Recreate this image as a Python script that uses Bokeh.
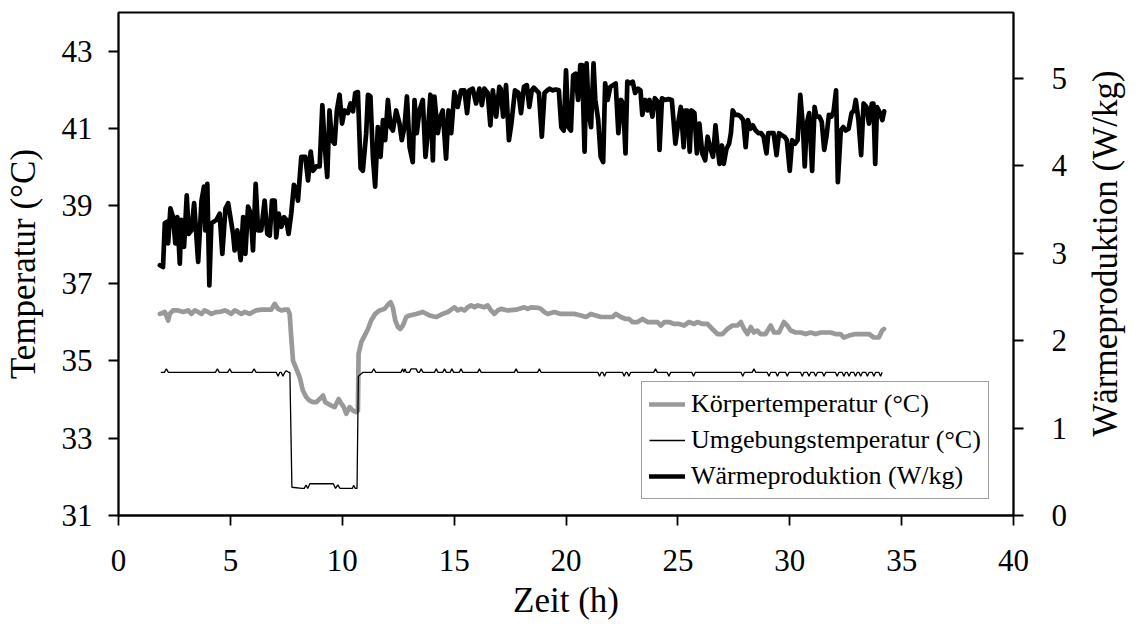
import math
from bokeh.plotting import figure
from bokeh.models import Range1d, LinearAxis, FixedTicker, Legend, LegendItem
from bokeh.embed import file_html
from bokeh.resources import INLINE

# ---------------- data ----------------
x_ticks = [0, 5, 10, 15, 20, 25, 30, 35, 40]
temp_ticks = [31, 33, 35, 37, 39, 41, 43]
heat_ticks = [0, 1, 2, 3, 4, 5]

# Wärmeproduktion (W/kg), right axis
heat_t = [1.85, 1.99, 2.07, 2.19, 2.22, 2.32, 2.44, 2.54, 2.63, 2.74, 2.81, 2.93, 3.05, 3.14, 3.26,
          3.38, 3.56, 3.71, 3.82, 3.88, 3.97, 4.06, 4.15, 4.38, 4.52, 4.64, 4.78, 4.90, 5.12, 5.19,
          5.31, 5.46, 5.57, 5.67, 5.79, 5.91, 6.01, 6.13, 6.24, 6.38, 6.53, 6.65, 6.76, 6.86, 6.98,
          7.05, 7.16, 7.28, 7.40, 7.50, 7.60, 7.72, 7.84, 7.95, 8.02, 8.17, 8.35, 8.47, 8.59, 8.69,
          8.84, 8.99, 9.11, 9.21, 9.33, 9.43, 9.54, 9.66, 9.76, 9.88, 9.99, 10.10, 10.25, 10.37, 10.48,
          10.58, 10.70, 10.82, 10.92, 11.07, 11.15, 11.26, 11.37, 11.47, 11.59, 11.71, 11.82, 11.92,
          12.04, 12.16, 12.26, 12.41, 12.56, 12.66, 12.78, 12.89, 13.01, 13.15, 13.23, 13.33, 13.45,
          13.60, 13.72, 13.82, 13.94, 14.05, 14.12, 14.27, 14.39, 14.49, 14.64, 14.75, 14.87, 15.01,
          15.16, 15.31, 15.46, 15.58, 15.68, 15.83, 15.98, 16.13, 16.24, 16.35, 16.50, 16.62, 16.73,
          16.88, 17.02,
          17.08, 17.19, 17.32, 17.45, 17.56, 17.72, 17.88, 17.99, 18.12, 18.25, 18.36, 18.47, 18.56,
          18.68, 18.79, 18.92, 19.04, 19.16, 19.27, 19.39, 19.55, 19.68, 19.79, 19.90, 20.00, 20.11,
          20.22, 20.32, 20.43, 20.54, 20.64, 20.72, 20.83, 20.92, 21.02, 21.12, 21.23, 21.31, 21.44,
          21.55, 21.66, 21.75, 21.86, 21.98, 22.10, 22.22, 22.34, 22.46, 22.55, 22.66, 22.74, 22.87,
          22.98, 23.09, 23.22, 23.33, 23.41, 23.54, 23.65, 23.73, 23.86, 23.97, 24.10, 24.18, 24.29,
          24.42, 24.58, 24.73, 24.89, 25.01, 25.13, 25.26, 25.32, 25.42, 25.53, 25.61, 25.74, 25.85,
          25.96, 26.09, 26.22, 26.33, 26.44, 26.57, 26.68, 26.76, 26.86, 26.97, 27.05, 27.17, 27.29,
          27.37, 27.45, 27.56, 27.68, 27.81, 27.92, 28.03, 28.13, 28.24, 28.35, 28.48, 28.61, 28.72,
          28.83, 28.96, 29.04, 29.15, 29.28, 29.41, 29.52, 29.63, 29.76, 29.87, 30.00, 30.11, 30.24,
          30.35, 30.47, 30.59, 30.67, 30.76, 30.87, 31.00, 31.11, 31.19, 31.32, 31.43, 31.54, 31.64,
          31.75, 31.86, 31.96, 32.07, 32.15, 32.28, 32.39, 32.50, 32.63, 32.76, 32.87, 32.95, 33.07,
          33.19, 33.30, 33.43, 33.54, 33.67, 33.74, 33.82, 33.90, 34.03, 34.14, 34.22]
heat_w = [2.86, 2.84, 3.34, 3.36, 3.11, 3.51, 3.41, 3.11, 3.41, 2.88, 3.38, 3.07, 3.66, 3.22, 3.26,
          3.57, 2.90, 3.60, 3.76, 3.26, 3.79, 2.63, 3.34, 3.38, 3.45, 2.99, 3.51, 3.57, 3.22, 3.03,
          3.26, 2.92, 3.41, 2.99, 3.53, 3.45, 3.03, 3.79, 3.26, 3.26, 3.60, 3.22, 3.20, 3.60, 3.60,
          3.18, 3.45, 3.30, 3.41, 3.38, 3.22, 3.45, 3.78, 3.72, 3.60, 4.10, 4.10, 3.83, 4.16, 3.94,
          3.99, 3.99, 4.69, 4.25, 3.87, 4.63, 4.29, 4.25, 4.63, 4.81, 4.48, 4.63, 4.60, 4.71, 4.62,
          4.83, 4.84, 3.97, 3.94, 4.37, 4.81, 4.79, 4.10, 3.76, 4.44, 4.10, 4.52, 4.29,
          4.75, 4.44, 4.40, 4.63, 4.48, 4.29, 4.44, 4.79, 4.21, 4.04, 4.75, 4.37, 4.63,
          4.75, 4.10, 4.37, 4.81, 4.06, 4.79, 4.37, 4.56, 4.63, 4.08, 4.63, 4.37, 4.84,
          4.67, 4.86, 4.86, 4.60, 4.86, 4.88, 4.71, 4.88, 4.69, 4.88, 4.83, 4.46, 4.86,
          4.56, 4.90,
          4.88, 4.56, 4.92, 4.29, 4.48, 4.86, 4.83, 4.60, 4.90, 4.92, 4.67, 4.86, 4.89,
          4.86, 4.83, 4.33, 4.83, 4.86, 4.88, 4.86, 4.87, 4.86, 4.44, 4.40, 5.09, 4.44,
          4.40, 5.03, 5.05, 4.75, 5.15, 5.15, 4.16, 5.17, 4.60, 4.44, 5.17, 4.75, 4.52,
          4.10, 4.04, 4.94, 4.75, 4.90, 4.92, 4.94, 4.37, 4.75, 4.71, 4.14, 4.96, 4.94,
          4.96, 4.83, 4.88, 4.86, 4.58, 4.75, 4.63, 4.75, 4.56, 4.77, 4.73, 4.18, 4.77,
          4.75, 4.76, 4.75, 4.25, 4.48, 4.67, 4.21, 4.63, 4.63, 4.16, 4.63, 4.60, 4.14,
          4.48, 4.14, 4.06, 4.33, 4.21, 4.10, 4.46, 4.25, 4.02, 4.23, 4.02, 4.19, 4.25,
          4.37, 4.63, 4.58, 4.58, 4.56, 4.52, 4.21, 4.52, 4.42, 4.46, 4.40, 4.37, 4.37,
          4.33, 4.14, 4.37, 4.37, 4.37, 4.12, 4.37, 4.35, 4.33, 4.29, 3.94, 4.29, 4.25,
          4.29, 4.81, 4.44, 3.99, 4.48, 4.60, 3.94, 4.67, 4.56, 4.56, 4.50, 4.18, 4.33,
          4.58, 4.56, 4.62, 4.86, 3.81, 4.40, 4.44, 4.40, 4.42, 4.60, 4.63, 4.75, 4.52,
          4.12, 4.71, 4.67, 4.48, 4.71, 4.71, 4.02, 4.67, 4.60, 4.52, 4.62]

# Körpertemperatur (°C), left axis
body_t = [1.85, 2.07, 2.22, 2.29, 2.44, 2.66, 2.89, 3.11, 3.26, 3.41, 3.56, 3.71, 3.85, 4.00, 4.15,
          4.38, 4.52, 4.75, 4.90, 5.04, 5.19, 5.34, 5.49, 5.64, 5.86, 6.01, 6.16, 6.38, 6.61, 6.83,
          6.98, 7.13, 7.28, 7.43, 7.57, 7.65, 7.72, 7.80, 7.95, 8.10, 8.24, 8.39, 8.54, 8.69, 8.84,
          8.99, 9.14, 9.24, 9.36, 9.51, 9.66, 9.84, 9.96, 10.07, 10.18, 10.33, 10.48, 10.63, 10.70,
          10.73, 10.85, 11.00, 11.15, 11.29, 11.47, 11.67, 11.89, 12.07, 12.16, 12.26, 12.37, 12.49,
          12.59, 12.71, 12.86, 13.01, 13.30, 13.60, 13.90, 14.20, 14.49, 14.72, 15.01, 15.16, 15.31,
          15.46, 15.61, 15.76, 15.91, 16.06, 16.35, 16.50, 16.65, 16.80, 16.95, 17.10, 17.40, 17.77,
          18.14, 18.29, 18.44, 18.74, 18.88, 19.03, 19.18, 19.48,
          19.77, 20.07, 20.37, 20.67, 20.89, 21.11, 21.33, 21.56, 21.86, 22.08, 22.23, 22.45, 22.67,
          22.82, 22.97, 23.20, 23.42, 23.64, 23.87, 24.09, 24.24, 24.39, 24.61, 24.83, 25.06, 25.28,
          25.50, 25.73, 25.87, 26.10, 26.32, 26.54, 26.77, 26.99, 27.21, 27.44, 27.66, 27.81, 27.96,
          28.11, 28.26, 28.40, 28.55, 28.70, 28.92, 29.15, 29.30, 29.52, 29.74, 29.89, 30.04, 30.26,
          30.49, 30.71, 30.93, 31.16, 31.38, 31.60, 31.83, 32.05, 32.27, 32.42, 32.65, 32.94, 33.24,
          33.54, 33.76, 33.98, 34.13, 34.21]
body_T = [36.21, 36.26, 36.04, 36.21, 36.30, 36.30, 36.26, 36.30, 36.21, 36.30, 36.26, 36.21, 36.30,
          36.26, 36.21, 36.26, 36.26, 36.30, 36.26, 36.21, 36.30, 36.26, 36.21, 36.26, 36.21, 36.26,
          36.30, 36.32, 36.32, 36.32, 36.47, 36.34, 36.30, 36.32, 36.32, 36.21, 35.61, 35.00, 34.79,
          34.57, 34.23, 34.06, 33.97, 33.93, 33.93, 34.01, 34.10, 33.93, 33.89, 33.84, 33.80, 34.01,
          33.89, 33.80, 33.63, 33.80, 33.71, 33.67, 33.71, 35.18, 35.48, 35.65, 35.82, 36.04, 36.21,
          36.30, 36.34, 36.47, 36.51, 36.38, 36.04, 35.87, 35.82, 35.91, 36.13, 36.17, 36.21, 36.26,
          36.17, 36.13, 36.21, 36.26, 36.38, 36.30, 36.34, 36.30, 36.38, 36.43, 36.38, 36.43, 36.38,
          36.43, 36.30, 36.21, 36.30, 36.34, 36.30, 36.32, 36.38, 36.34, 36.38, 36.37, 36.34, 36.26,
          36.21, 36.26,
          36.21, 36.21, 36.21, 36.17, 36.13, 36.21, 36.17, 36.13, 36.13, 36.13, 36.21, 36.13, 36.08,
          36.08, 36.00, 36.00, 36.08, 36.00, 36.00, 36.00, 35.91, 36.00, 36.00, 35.95, 35.95, 35.91,
          36.00, 35.95, 36.00, 35.95, 35.95, 35.82, 35.69, 35.69, 35.82, 35.91, 35.91, 36.00, 35.82,
          35.69, 35.87, 35.73, 35.78, 35.69, 35.69, 35.91, 35.73, 35.73, 36.00, 35.91, 35.78, 35.73,
          35.73, 35.69, 35.73, 35.69, 35.73, 35.73, 35.73, 35.69, 35.69, 35.60, 35.65, 35.69, 35.69,
          35.69, 35.60, 35.60, 35.78, 35.82]

# Umgebungstemperatur (°C), left axis
amb_t = [1.89, 2.05, 2.14, 2.23, 4.33, 4.42, 4.51, 4.88, 4.97, 5.06, 5.97, 6.06, 6.15, 7.05, 7.13,
         7.21, 7.27, 7.35, 7.43, 7.50, 7.60, 7.66, 7.75, 8.20, 8.30, 8.38, 8.46, 8.55, 9.60, 9.70,
         9.80, 9.90, 10.45, 10.51, 10.58, 10.66, 10.72, 10.93, 11.32, 11.41, 11.50, 12.62, 12.70,
         12.75, 12.80, 12.86, 13.00, 13.08, 13.30, 13.38, 13.45, 13.53, 13.61, 14.12, 14.20, 14.28,
         14.49, 14.57, 14.65, 14.82, 14.90, 14.98, 15.23, 15.31, 15.39, 16.05, 16.13, 16.21, 17.69,
         17.77, 17.85, 18.73, 18.81, 18.89, 21.42, 21.50, 21.58, 21.64, 21.72, 21.80, 22.52, 22.60,
         22.68, 22.73, 22.81, 22.89, 23.92, 24.00, 24.08, 24.52, 24.60, 24.68, 25.62, 25.70, 25.78,
         27.82, 27.90, 27.98, 28.32, 28.40, 28.48, 28.99, 29.07, 29.15, 29.37, 29.45, 29.53, 29.81,
         29.89, 29.97, 30.48, 30.56, 30.64, 30.78, 30.86, 30.94, 31.08, 31.16, 31.24, 31.45, 31.53,
         31.61, 32.04, 32.12, 32.20, 32.34, 32.42, 32.50, 32.57, 32.65, 32.73, 32.86, 32.94, 33.02,
         33.09, 33.17, 33.25, 33.39, 33.47, 33.55, 33.68, 33.76, 33.84, 33.98, 34.06, 34.13]
amb_T = [34.70, 34.70, 34.79, 34.70, 34.70, 34.79, 34.70, 34.70, 34.79, 34.70, 34.70, 34.79, 34.70,
         34.70, 34.60, 34.70, 34.70, 34.60, 34.70, 34.74, 34.70, 34.70, 31.73, 31.70, 31.70, 31.79,
         31.70, 31.82, 31.82, 31.70, 31.79, 31.70, 31.70, 31.78, 31.70, 31.70, 34.60, 34.70, 34.70,
         34.79, 34.70, 34.70, 34.79, 34.70, 34.79, 34.70, 34.70, 34.79, 34.79, 34.70, 34.70, 34.79,
         34.70, 34.70, 34.79, 34.70, 34.70, 34.79, 34.70, 34.70, 34.79, 34.70, 34.70, 34.79, 34.70,
         34.70, 34.79, 34.70, 34.70, 34.79, 34.70, 34.70, 34.79, 34.70, 34.70, 34.60, 34.70, 34.70,
         34.60, 34.70, 34.70, 34.60, 34.70, 34.70, 34.60, 34.70, 34.70, 34.79, 34.70, 34.70, 34.60,
         34.70, 34.70, 34.60, 34.70, 34.70, 34.60, 34.70, 34.70, 34.79, 34.70, 34.70, 34.60, 34.70,
         34.70, 34.60, 34.70, 34.70, 34.60, 34.70, 34.70, 34.60, 34.70, 34.70, 34.60, 34.70, 34.70,
         34.60, 34.70, 34.70, 34.60, 34.70, 34.70, 34.60, 34.70, 34.70, 34.60, 34.70, 34.70, 34.60,
         34.70, 34.70, 34.60, 34.70, 34.70, 34.60, 34.70, 34.70, 34.60, 34.70, 34.70, 34.60, 34.70,
         34.70, 34.60, 34.70]

label_body = "Körpertemperatur (°C)"
label_amb = "Umgebungstemperatur (°C)"
label_heat = "Wärmeproduktion (W/kg)"

# ---------------- figure ----------------
FONT = "Liberation Serif"
TICK_SIZE = "31px"
TITLE_SIZE = "35px"

p = figure(width=1147, height=624, output_backend="svg", toolbar_location=None,
           x_range=Range1d(0, 40), y_range=Range1d(31, 44),
           min_border_left=117, min_border_right=134, min_border_top=12, min_border_bottom=109)
p.extra_y_ranges = {"heat": Range1d(0, 5.75)}
p.background_fill_color = "white"
p.border_fill_color = "white"
p.outline_line_color = "black"
p.outline_line_width = 1.8
p.outline_line_alpha = 1.0
p.xgrid.visible = False
p.ygrid.visible = False

r_body = p.line(body_t, body_T, line_color="#999999", line_width=4.7,
                line_join="round", line_cap="round")
r_amb = p.line(amb_t, amb_T, line_color="black", line_width=1.3)
r_heat = p.line(heat_t, heat_w, y_range_name="heat", line_color="black", line_width=4.7,
                line_join="round", line_cap="round")

# right axis with ticks and tick labels
right_axis = LinearAxis(y_range_name="heat")
p.add_layout(right_axis, "right")

xa = p.xaxis[0]
ya = p.yaxis[0]
xa.ticker = FixedTicker(ticks=x_ticks)
ya.ticker = FixedTicker(ticks=temp_ticks)
right_axis.ticker = FixedTicker(ticks=heat_ticks)
xa.axis_label = "Zeit (h)"
ya.axis_label = "Temperatur (°C)"

for ax in (xa, ya, right_axis):
    ax.major_label_text_font = FONT
    ax.major_label_text_font_size = TICK_SIZE
    ax.major_label_text_color = "black"
    ax.axis_label_text_font = FONT
    ax.axis_label_text_font_size = TITLE_SIZE
    ax.axis_label_text_font_style = "normal"
    ax.axis_label_text_color = "black"
    ax.minor_tick_line_color = None
    ax.major_tick_in = 0
    ax.major_tick_out = 10
    ax.axis_line_width = 1.8
    ax.axis_line_color = "black"
    ax.major_tick_line_width = 1.8
    ax.major_tick_line_color = "black"

xa.major_label_standoff = 24
xa.axis_label_standoff = 7
ya.major_label_standoff = 16
ya.axis_label_standoff = 16
right_axis.major_label_standoff = 28

# outer right "axis" that only carries the title, reading bottom-to-top
title_axis = LinearAxis(y_range_name="heat", ticker=FixedTicker(ticks=[]))
title_axis.axis_line_color = None
title_axis.major_tick_line_color = None
title_axis.minor_tick_line_color = None
title_axis.major_tick_out = 0
title_axis.major_tick_in = 0
title_axis.minor_tick_out = 0
title_axis.minor_tick_in = 0
title_axis.axis_label = "\u00a0" * 9 + label_heat
title_axis.axis_label_orientation = math.pi / 2
title_axis.axis_label_align = "start"
title_axis.axis_label_standoff = 35
title_axis.axis_label_text_font = FONT
title_axis.axis_label_text_font_size = TITLE_SIZE
title_axis.axis_label_text_font_style = "normal"
title_axis.axis_label_text_color = "black"
p.add_layout(title_axis, "right")

legend = Legend(items=[LegendItem(label=label_body, renderers=[r_body]),
                       LegendItem(label=label_amb, renderers=[r_amb]),
                       LegendItem(label=label_heat, renderers=[r_heat])],
                location=(523, 16))
legend.label_text_font = FONT
legend.label_text_font_size = "26px"
legend.label_text_color = "black"
legend.glyph_width = 36
legend.glyph_height = 20
legend.label_standoff = 6
legend.spacing = 6
legend.padding = 7
legend.margin = 0
legend.border_line_color = "#404040"
legend.border_line_width = 1
legend.background_fill_color = "white"
legend.background_fill_alpha = 1.0
p.add_layout(legend)

open("out.html", "w").write(file_html(p, INLINE))
